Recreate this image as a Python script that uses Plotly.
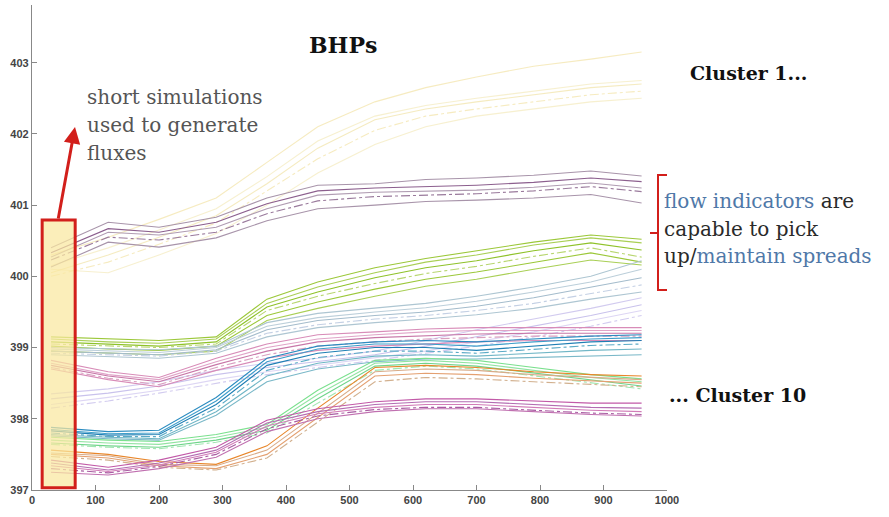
import plotly.graph_objects as go

# Report times for the well bottom-hole pressure runs
times = [30, 120, 200, 290, 370, 450, 540, 620, 700, 790, 880, 960]

# BHP traces grouped by flux cluster (one list per run)
cluster_yellow = [
    [400.30, 400.55, 400.80, 401.10, 401.60, 402.10, 402.45, 402.65, 402.80, 402.95, 403.05, 403.15],
    [400.15, 400.40, 400.65, 400.95, 401.40, 401.90, 402.25, 402.40, 402.50, 402.60, 402.70, 402.75],
    [400.05, 400.30, 400.55, 400.85, 401.30, 401.80, 402.20, 402.35, 402.45, 402.55, 402.65, 402.70],
    [400.00, 400.20, 400.45, 400.75, 401.20, 401.65, 402.05, 402.25, 402.35, 402.45, 402.55, 402.60],
    [400.10, 400.05, 400.30, 400.60, 401.00, 401.45, 401.85, 402.10, 402.25, 402.35, 402.45, 402.50],
]
cluster_mauve = [
    [400.40, 400.76, 400.69, 400.83, 401.10, 401.28, 401.30, 401.36, 401.38, 401.42, 401.48, 401.41],
    [400.33, 400.67, 400.62, 400.76, 401.02, 401.20, 401.24, 401.26, 401.28, 401.32, 401.38, 401.33],
    [400.27, 400.62, 400.58, 400.69, 400.95, 401.14, 401.18, 401.19, 401.21, 401.25, 401.31, 401.24],
    [400.23, 400.55, 400.51, 400.62, 400.88, 401.06, 401.12, 401.14, 401.16, 401.20, 401.26, 401.19],
    [400.13, 400.48, 400.41, 400.54, 400.78, 400.95, 401.00, 401.05, 401.07, 401.10, 401.15, 401.03],
]
cluster_lime = [
    [399.15, 399.12, 399.10, 399.15, 399.68, 399.92, 400.12, 400.25, 400.36, 400.48, 400.58, 400.52],
    [399.12, 399.08, 399.06, 399.12, 399.62, 399.85, 400.05, 400.20, 400.30, 400.44, 400.54, 400.47],
    [399.08, 399.05, 399.02, 399.08, 399.57, 399.78, 399.98, 400.12, 400.22, 400.36, 400.47, 400.37],
    [399.05, 399.02, 399.00, 399.05, 399.52, 399.72, 399.90, 400.04, 400.14, 400.28, 400.40, 400.27],
    [399.02, 398.98, 398.96, 399.02, 399.45, 399.64, 399.82, 399.96, 400.06, 400.20, 400.33, 400.20],
    [398.95, 398.92, 398.90, 398.95, 399.38, 399.55, 399.72, 399.86, 399.96, 400.10, 400.23, 400.16],
]
cluster_steel = [
    [399.00, 398.98, 398.97, 399.02, 399.35, 399.48, 399.55, 399.62, 399.72, 399.85, 400.00, 400.22],
    [398.98, 398.95, 398.93, 399.00, 399.30, 399.42, 399.50, 399.56, 399.65, 399.78, 399.92, 400.10],
    [398.95, 398.92, 398.90, 398.97, 399.25, 399.38, 399.45, 399.50, 399.58, 399.70, 399.85, 399.98],
    [398.92, 398.90, 398.88, 398.95, 399.20, 399.32, 399.40, 399.45, 399.52, 399.62, 399.76, 399.88],
    [398.90, 398.87, 398.85, 398.92, 399.15, 399.28, 399.35, 399.40, 399.46, 399.55, 399.68, 399.78],
]
cluster_lavender = [
    [398.35, 398.42, 398.52, 398.68, 398.78, 398.85, 398.95, 399.10, 399.25, 399.40, 399.55, 399.70],
    [398.28, 398.36, 398.46, 398.62, 398.72, 398.80, 398.90, 399.02, 399.15, 399.30, 399.45, 399.60],
    [398.20, 398.30, 398.40, 398.55, 398.66, 398.75, 398.85, 398.95, 399.08, 399.22, 399.38, 399.52],
    [398.15, 398.25, 398.36, 398.50, 398.62, 398.72, 398.82, 398.92, 399.02, 399.15, 399.30, 399.45],
]
cluster_pink = [
    [398.82, 398.66, 398.58, 398.85, 399.05, 399.18, 399.22, 399.26, 399.28, 399.28, 399.28, 399.28],
    [398.78, 398.62, 398.55, 398.80, 399.00, 399.12, 399.18, 399.22, 399.24, 399.24, 399.24, 399.24],
    [398.75, 398.60, 398.52, 398.76, 398.95, 399.08, 399.14, 399.17, 399.19, 399.20, 399.20, 399.20],
    [398.72, 398.57, 398.48, 398.72, 398.90, 399.02, 399.08, 399.12, 399.14, 399.16, 399.16, 399.16],
    [398.70, 398.55, 398.45, 398.68, 398.85, 398.96, 399.02, 399.05, 399.08, 399.10, 399.10, 399.10],
]
cluster_blue = [
    [397.88, 397.82, 397.84, 398.30, 398.85, 399.02, 399.08, 399.10, 399.08, 399.12, 399.16, 399.18],
    [397.85, 397.79, 397.80, 398.25, 398.80, 398.98, 399.05, 399.05, 399.02, 399.08, 399.12, 399.14],
    [397.83, 397.77, 397.78, 398.20, 398.75, 398.92, 399.00, 399.00, 398.96, 399.02, 399.08, 399.10],
    [397.80, 397.75, 397.75, 398.15, 398.68, 398.86, 398.95, 398.95, 398.92, 398.98, 399.03, 399.05],
    [397.78, 397.74, 397.72, 398.10, 398.60, 398.78, 398.88, 398.90, 398.88, 398.92, 398.96, 398.98],
    [397.76, 397.72, 397.70, 398.05, 398.52, 398.70, 398.80, 398.84, 398.84, 398.86, 398.88, 398.90],
]
cluster_mint = [
    [397.74, 397.70, 397.68, 397.78, 397.92, 398.40, 398.82, 398.85, 398.82, 398.72, 398.62, 398.56],
    [397.70, 397.66, 397.64, 397.74, 397.88, 398.34, 398.78, 398.82, 398.78, 398.68, 398.58, 398.52],
    [397.66, 397.62, 397.60, 397.70, 397.84, 398.28, 398.74, 398.78, 398.74, 398.64, 398.54, 398.46],
    [397.64, 397.60, 397.58, 397.67, 397.80, 398.22, 398.68, 398.74, 398.70, 398.60, 398.50, 398.42],
]
cluster_orange = [
    [397.56, 397.50, 397.40, 397.36, 397.62, 398.15, 398.72, 398.75, 398.72, 398.66, 398.62, 398.60],
    [397.52, 397.48, 397.36, 397.34, 397.56, 398.08, 398.66, 398.70, 398.68, 398.62, 398.58, 398.55],
    [397.50, 397.45, 397.34, 397.30, 397.50, 398.02, 398.60, 398.64, 398.62, 398.57, 398.53, 398.50],
    [397.47, 397.42, 397.32, 397.28, 397.45, 397.95, 398.52, 398.58, 398.56, 398.52, 398.48, 398.45],
]
cluster_magenta = [
    [397.42, 397.32, 397.42, 397.60, 397.98, 398.14, 398.24, 398.28, 398.28, 398.25, 398.22, 398.22],
    [397.38, 397.28, 397.38, 397.56, 397.94, 398.10, 398.20, 398.24, 398.24, 398.20, 398.16, 398.15],
    [397.34, 397.26, 397.35, 397.53, 397.90, 398.07, 398.16, 398.20, 398.20, 398.16, 398.12, 398.10],
    [397.30, 397.24, 397.33, 397.50, 397.86, 398.04, 398.13, 398.16, 398.16, 398.12, 398.08, 398.06],
    [397.25, 397.21, 397.30, 397.46, 397.82, 398.00, 398.10, 398.14, 398.14, 398.10, 398.06, 398.04],
]

x_ticks = [0, 100, 200, 300, 400, 500, 600, 700, 800, 900, 1000]
y_ticks = [397, 398, 399, 400, 401, 402, 403]

# Line colours cycled within each cluster
palettes = [
    (cluster_yellow, ["rgba(238,218,140,0.55)", "rgba(240,225,160,0.5)", "rgba(235,215,130,0.5)"]),
    (cluster_mauve, ["#a894aa", "#8c5f8e", "#b09cb2", "#9a7a9c"]),
    (cluster_lime, ["#9cc83a", "#a9cf55", "#8fc22a", "#b8d670"]),
    (cluster_steel, ["#aec6d2", "#bccfda", "#a4bccc", "#c4d0e4"]),
    (cluster_lavender, ["#d2cbef", "#c9c2ec", "#ddd6f4"]),
    (cluster_pink, ["#d88cb8", "#e0a4c8", "#c877a8", "#d9a0c0"]),
    (cluster_blue, ["#2b8cc0", "#3d9dca", "#1f7fb4", "#5aaac6", "#70b6c6", "#7ab8c8"]),
    (cluster_mint, ["#7be08e", "#92e4a2", "#6fd48a", "#a0e6b0"]),
    (cluster_orange, ["#e8862a", "#d9ab88", "#e4a070", "#d2b08e"]),
    (cluster_magenta, ["#c25aa8", "#b46cb2", "#d27cb8", "#a95ca2", "#c070b0"]),
]
dashes = ["solid", "solid", "solid", "dashdot", "solid"]

fig = go.Figure()
for runs, colours in palettes:
    for i, run in enumerate(runs):
        fig.add_trace(go.Scatter(
            x=times, y=run, mode="lines",
            line=dict(color=colours[i % len(colours)], width=1.1,
                      dash=dashes[i % len(dashes)]),
            showlegend=False, hoverinfo="skip",
        ))

# Plot area geometry (pixels) used for placing text around the axes
W, H = 889, 517
L, R, T, B = 32, 667, 5, 490


def px(xp):
    return (xp - L) / (R - L)


def py(yp):
    return (B - yp) / (B - T)


serif = "DejaVu Serif"
red = "#d21f1b"
blue_txt = "#4f78a8"
note_size = 20

annotations = [
    dict(x=px(343), y=py(45), text="<b>BHPs</b>", font=dict(family=serif, size=22, color="#111")),
    dict(x=px(688), y=py(73), text="<b>Cluster 1...</b>", xanchor="left",
         font=dict(family=serif, size=19, color="#111")),
    dict(x=px(667), y=py(395), text="<b>... Cluster 10</b>", xanchor="left",
         font=dict(family=serif, size=19, color="#111")),
    dict(x=px(662), y=py(201), xanchor="left",
         text=f"<span style='color:{blue_txt}'>flow indicators</span> are",
         font=dict(family=serif, size=note_size, color="#2a2a2a")),
    dict(x=px(662), y=py(229), xanchor="left", text="capable to pick",
         font=dict(family=serif, size=note_size, color="#2a2a2a")),
    dict(x=px(662), y=py(256), xanchor="left",
         text=f"up/<span style='color:{blue_txt}'>maintain spreads</span>",
         font=dict(family=serif, size=note_size, color="#2a2a2a")),
    dict(x=px(85), y=py(97), xanchor="left", text="short simulations",
         font=dict(family=serif, size=note_size, color="#555")),
    dict(x=px(85), y=py(125), xanchor="left", text="used to generate",
         font=dict(family=serif, size=note_size, color="#555")),
    dict(x=px(85), y=py(153), xanchor="left", text="fluxes",
         font=dict(family=serif, size=note_size, color="#555")),
]
for a in annotations:
    a.update(xref="paper", yref="paper", showarrow=False, yanchor="middle")
    a.setdefault("xanchor", "center")

# Arrow from the highlighted window up to the note
annotations.append(dict(
    x=px(75), y=py(127), xref="paper", yref="paper", text="",
    showarrow=True, ax=-17, ay=93, arrowhead=2, arrowsize=1.1,
    arrowwidth=3, arrowcolor=red,
))

shapes = [
    # Early-time window used for the short simulations
    dict(type="rect", xref="x", yref="y", x0=16, x1=68, y0=397.03, y1=400.79,
         fillcolor="rgba(250,232,160,0.72)", line=dict(color=red, width=3), layer="above"),
    # Bracket next to the spread note
    dict(type="path", xref="paper", yref="paper",
         path=(f"M {px(667)},{py(175)} L {px(658)},{py(175)} L {px(658)},{py(290)} "
               f"L {px(667)},{py(290)} M {px(658)},{py(233)} L {px(650)},{py(233)}"),
         line=dict(color=red, width=2)),
]

axis_font = dict(family="Liberation Sans", size=11, color="#444", weight="bold")
fig.update_layout(
    width=W, height=H,
    margin=dict(l=L, r=W - R, t=T, b=H - B, pad=0),
    paper_bgcolor="white", plot_bgcolor="white",
    xaxis=dict(range=[0, 1000], tickvals=x_ticks, ticks="inside", ticklen=5,
               tickcolor="#888", showline=True, linecolor="#888", linewidth=1.2,
               showgrid=False, zeroline=False, tickfont=axis_font),
    yaxis=dict(range=[397, 403.81], tickvals=y_ticks, ticks="inside", ticklen=5,
               tickcolor="#888", showline=True, linecolor="#888", linewidth=1.2,
               showgrid=False, zeroline=False, tickfont=axis_font),
    annotations=annotations,
    shapes=shapes,
)

fig.write_html("out.html")
